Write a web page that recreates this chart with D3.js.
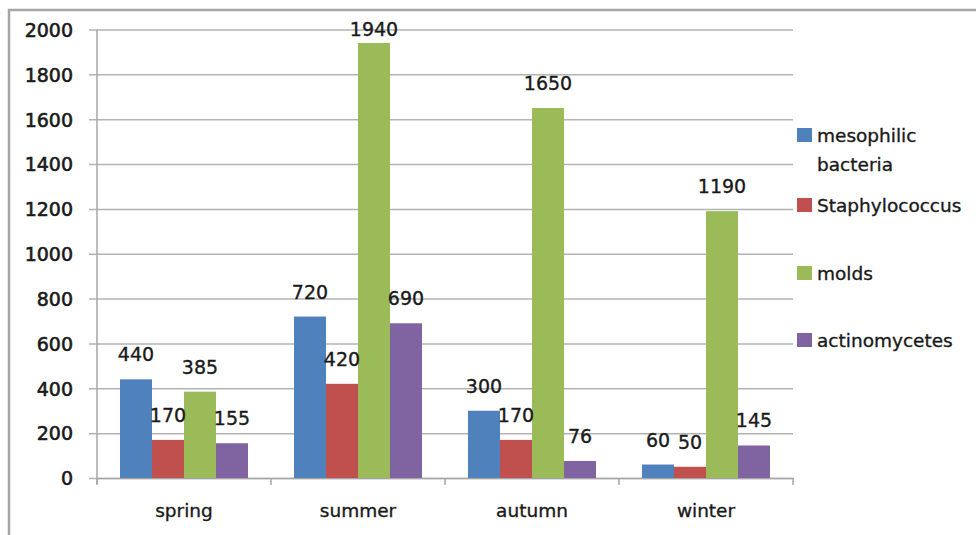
<!DOCTYPE html>
<html>
<head>
<meta charset="utf-8">
<script src="https://cdn.jsdelivr.net/npm/d3@7"></script>
<style>
  html, body { margin: 0; padding: 0; background: #fff; }
  svg { display: block; }
  text { font-family: "DejaVu Sans", sans-serif; fill: #1a1a1a; stroke: #1a1a1a; stroke-width: 0.35px; }
</style>
</head>
<body>
<svg id="chart" width="976" height="535"></svg>
<script>
// Seasonal counts per group of microorganisms
const seasons = ["spring", "summer", "autumn", "winter"];
const groups = ["mesophilic bacteria", "Staphylococcus", "molds", "actinomycetes"];
const mesophilic = [440, 720, 300, 60];
const staphylococcus = [170, 420, 170, 50];
const molds = [385, 1940, 1650, 1190];
const actinomycetes = [155, 690, 76, 145];
const yTicks = [0, 200, 400, 600, 800, 1000, 1200, 1400, 1600, 1800, 2000];
const colors = ["#4F81BD", "#C0504D", "#9BBB59", "#8064A2"];

const seriesValues = [mesophilic, staphylococcus, molds, actinomycetes];
const rows = [];
seasons.forEach((s, i) => {
  groups.forEach((g, j) => rows.push({ season: s, group: g, idx: j, value: seriesValues[j][i] }));
});

const svg = d3.select("#chart");

// outer chart frame (only the top and left edges fall inside the view)
svg.append("rect")
  .attr("x", 9).attr("y", 10).attr("width", 1100).attr("height", 700)
  .attr("fill", "none").attr("stroke", "#a6a6a6").attr("stroke-width", 2.5);

const plotLeft = 97, plotRight = 793, plotTop = 29.5, plotBottom = 478;

const y = d3.scaleLinear().domain([0, 2000]).range([plotBottom, plotTop]);
const x0 = d3.scaleBand().domain(seasons).range([plotLeft, plotRight]);
const x1 = d3.scaleBand().domain(groups).range([23, x0.bandwidth() - 23]);

// horizontal gridlines with tick marks
const yAxis = d3.axisLeft(y).tickValues(yTicks).tickFormat(d3.format("d"))
  .tickSize(-(plotRight - plotLeft)).tickPadding(24).tickSizeOuter(0);
const gy = svg.append("g").attr("transform", `translate(${plotLeft},0)`).call(yAxis);
gy.select(".domain").remove();
gy.selectAll(".tick line")
  .attr("x1", -8)
  .attr("stroke", "#b3b3b3").attr("stroke-width", 1.5);
gy.selectAll(".tick text")
  .style("font-size", "19px")
  .attr("fill", "#1a1a1a")
  .style("stroke-width", "0.6px")
  .attr("x", -24)
  .attr("dy", "0.36em");

// vertical axis line
svg.append("line")
  .attr("x1", plotLeft).attr("x2", plotLeft).attr("y1", plotTop).attr("y2", plotBottom + 6)
  .attr("stroke", "#a6a6a6").attr("stroke-width", 1.5);

// category axis
const xAxis = d3.axisBottom(x0).tickSize(0).tickPadding(26);
const gx = svg.append("g").attr("transform", `translate(0,${plotBottom})`).call(xAxis);
gx.select(".domain").attr("stroke", "#a6a6a6").attr("stroke-width", 1.5);
gx.selectAll(".tick text").style("font-size", "18.5px").attr("fill", "#1a1a1a");
// category separators below the axis
gx.selectAll(".sep")
  .data(seasons.map(s => x0(s)).concat([plotRight]))
  .join("line")
  .attr("class", "sep")
  .attr("x1", d => d).attr("x2", d => d)
  .attr("y1", 0).attr("y2", 7)
  .attr("stroke", "#a6a6a6").attr("stroke-width", 1.5);

// bars
const plot = svg.append("g");
plot.selectAll("rect.bar")
  .data(rows)
  .join("rect")
  .attr("class", "bar")
  .attr("x", d => x0(d.season) + x1(d.group))
  .attr("width", x1.bandwidth())
  .attr("y", d => y(d.value))
  .attr("height", d => y(0) - y(d.value))
  .attr("fill", d => colors[d.idx]);

// value labels above bars
plot.selectAll("text.val")
  .data(rows)
  .join("text")
  .attr("class", "val")
  .attr("x", d => x0(d.season) + x1(d.group) + x1.bandwidth() / 2)
  .attr("y", d => Math.max(y(d.value) - 18, 36))
  .attr("text-anchor", "middle")
  .style("font-size", "19px")
  .text(d => d.value);

// legend
const legendItems = [
  { lines: ["mesophilic", "bacteria"], cy: 135 },
  { lines: ["Staphylococcus"], cy: 205 },
  { lines: ["molds"], cy: 273 },
  { lines: ["actinomycetes"], cy: 340 }
];
const lg = svg.append("g");
legendItems.forEach((item, i) => {
  lg.append("rect")
    .attr("x", 797).attr("y", item.cy - 7)
    .attr("width", 15).attr("height", 14)
    .attr("fill", colors[i]);
  item.lines.forEach((ln, k) => {
    lg.append("text")
      .attr("x", 817)
      .attr("y", item.cy + 7 + k * 29)
      .style("font-size", "18.5px")
      .text(ln);
  });
});
</script>
</body>
</html>
